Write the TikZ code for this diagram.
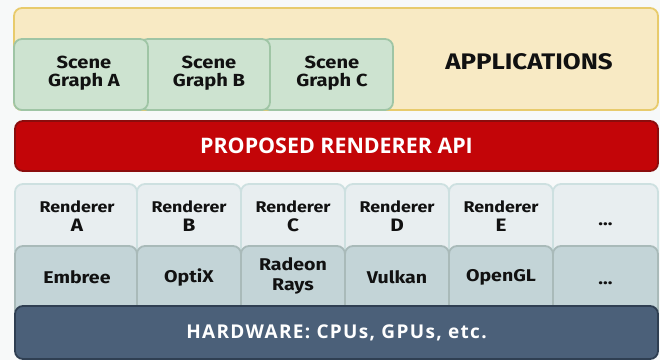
\documentclass[tikz,border=0pt]{standalone}
\usepackage{fontspec}
\setmainfont{Fira Sans}[FakeStretch=1.15]
\newfontfamily\opensans{Open Sans}
\newfontfamily\opensanswide{Open Sans}[LetterSpace=7]
\newcommand\rletter[1]{{\fontsize{18}{18}\selectfont #1}}
\definecolor{bgc}{HTML}{F7F9F9}
\definecolor{appfill}{HTML}{F8EAC4}
\definecolor{appdraw}{HTML}{E8CB6C}
\definecolor{sgfill}{HTML}{CDE3D0}
\definecolor{sgdraw}{HTML}{9FC5A5}
\definecolor{apifill}{HTML}{C30508}
\definecolor{apidraw}{HTML}{8B0D0D}
\definecolor{rfill}{HTML}{E8EEF0}
\definecolor{rdraw}{HTML}{CDE0E0}
\definecolor{efill}{HTML}{C3D4D7}
\definecolor{edraw}{HTML}{A9BAB9}
\definecolor{hwfill}{HTML}{4B6079}
\definecolor{hwdraw}{HTML}{2F3F52}
\definecolor{txt}{HTML}{111111}
\tikzset{
  base/.style={rounded corners=8pt, line width=1.8pt, inner sep=0pt, outer sep=0pt},
  appbox/.style={base, fill=appfill, draw=appdraw},
  sgbox/.style={base, fill=sgfill, draw=sgdraw, minimum height=71pt},
  apibox/.style={base, fill=apifill, draw=apidraw, text=white, font=\opensans\bfseries\fontsize{21.4}{24}\selectfont},
  rbox/.style={base, fill=rfill, draw=rdraw, minimum height=74pt},
  ebox/.style={base, fill=efill, draw=edraw, minimum height=72pt},
  hwbox/.style={base, fill=hwfill, draw=hwdraw, text=white, font=\opensanswide\bfseries\fontsize{19}{22}\selectfont},
  sgtext/.style={align=center, text=txt, font=\bfseries\fontsize{17.5}{18.4}\selectfont},
  rtext/.style={align=center, text=txt, font=\bfseries\fontsize{15.5}{19.4}\selectfont},
  etext/.style={align=center, text=txt, font=\bfseries\fontsize{17}{20}\selectfont},
}
\begin{document}
\begin{tikzpicture}[x=1pt, y=-1pt]
\fill[bgc] (0,0) rectangle (660,360);
\useasboundingbox (0,0) rectangle (660,360);
% applications
\node[appbox, minimum width=644pt, minimum height=102pt] (app) at (336,59) {};
\node[text=txt, font=\bfseries\fontsize{22.5}{22}\selectfont] (applbl) at (529,62) {APPLICATIONS};
\node[sgbox, minimum width=131pt] (sgC) at (327.5,74.5) {};
\node[sgbox, minimum width=130pt] (sgB) at (205,74.5) {};
\node[sgbox, minimum width=134pt] (sgA) at (81,74.5) {};
\node[sgtext] (sgAt) at (84,73) {Scene\\Graph A};
\node[sgtext] (sgBt) at (209,73) {Scene\\Graph B};
\node[sgtext] (sgCt) at (332,73) {Scene\\Graph C};
% api
\node[apibox, minimum width=643pt, minimum height=50pt] (api) at (336.5,146) {PROPOSED RENDERER API};
% renderers
\node[rbox, minimum width=122pt] (rA) at (76,221) {};
\node[rbox, minimum width=104pt] (rB) at (189,221) {};
\node[rbox, minimum width=104pt] (rC) at (293,221) {};
\node[rbox, minimum width=104pt] (rD) at (397,221) {};
\node[rbox, minimum width=104pt] (rE) at (501,221) {};
\node[rbox, minimum width=105pt] (rF) at (605.5,221) {};
\node[rtext] (rAt) at (77,216) {Renderer\\\rletter{A}};
\node[rtext] (rBt) at (189,216) {Renderer\\\rletter{B}};
\node[rtext] (rCt) at (293,216) {Renderer\\\rletter{C}};
\node[rtext] (rDt) at (397,216) {Renderer\\\rletter{D}};
\node[rtext] (rEt) at (501,216) {Renderer\\\rletter{E}};
\node[etext, anchor=base] (rFt) at (605.5,225) {...};
% libraries
\node[ebox, minimum width=122pt] (eA) at (76,282) {};
\node[ebox, minimum width=104pt] (eB) at (189,282) {};
\node[ebox, minimum width=104pt] (eC) at (293,282) {};
\node[ebox, minimum width=104pt] (eD) at (397,282) {};
\node[ebox, minimum width=104pt] (eE) at (501,282) {};
\node[ebox, minimum width=105pt] (eF) at (605.5,282) {};
\node[etext] (eAt) at (77,277.5) {Embree};
\node[etext] (eBt) at (189,277.5) {OptiX};
\node[etext] (eCt) at (293,276) {Radeon\\Rays};
\node[etext] (eDt) at (397,277.5) {Vulkan};
\node[etext] (eEt) at (501,277.5) {OpenGL};
\node[etext, anchor=base] (eFt) at (605.5,284) {...};
% hardware
\node[hwbox, minimum width=643pt, minimum height=53pt] (hw) at (336.5,332.5) {HARDWARE: CPUs, GPUs, etc.};
\end{tikzpicture}
\end{document}
